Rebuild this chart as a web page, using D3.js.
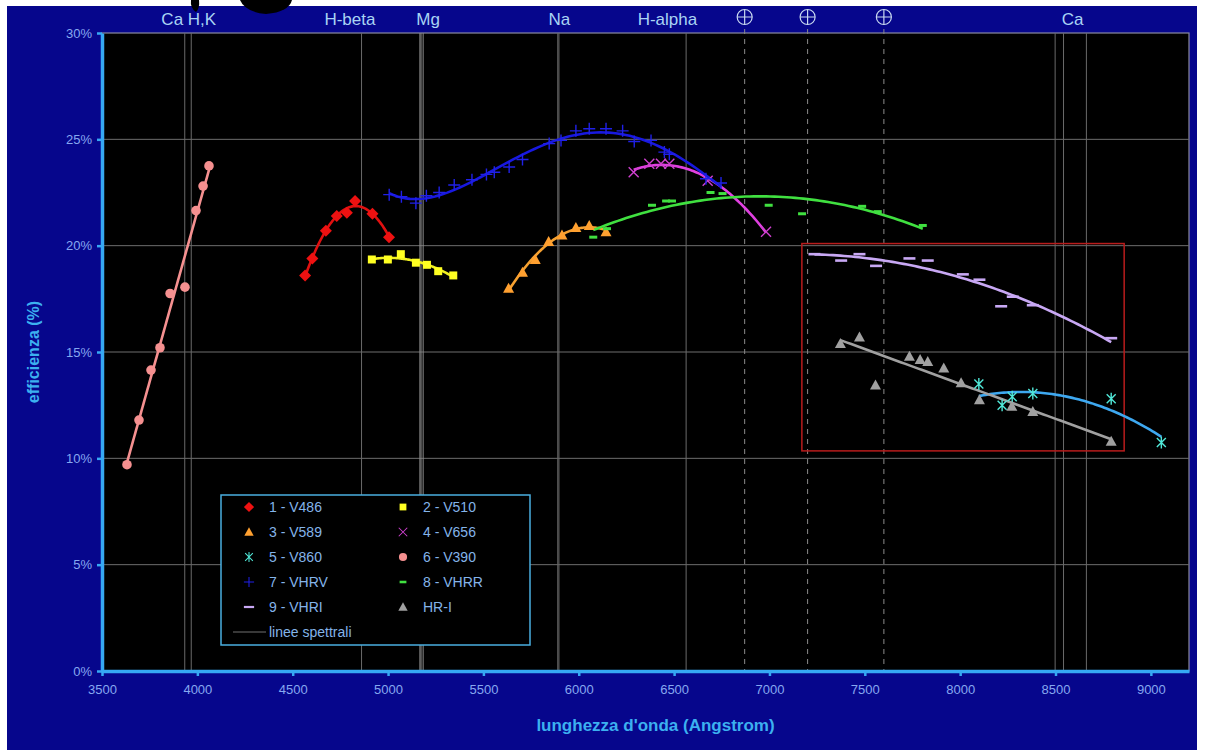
<!DOCTYPE html>
<html>
<head>
<meta charset="utf-8">
<script src="https://cdn.jsdelivr.net/npm/d3@7"></script>
<style>
body{margin:0;background:#fff}
text{font-family:"Liberation Sans",Arial,sans-serif}
</style>
</head>
<body>
<svg id="chart" width="1205" height="754"></svg>
<script>
// data: [wavelength (Angstrom), efficiency (%)]
const V486 = [[4565,18.6],[4603,19.4],[4674,20.7],[4731,21.4],[4784,21.55],[4827,22.1],[4918,21.5],[5005,20.4]]
const V510 = [[4915,19.35],[4999,19.35],[5067,19.6],[5146,19.2],[5204,19.1],[5263,18.8],[5342,18.6]]
const V589 = [[5632,18.0],[5705,18.75],[5772,19.35],[5842,20.2],[5912,20.5],[5985,20.85],[6055,20.95],[6143,20.65]]
const V656 = [[6288,23.45],[6370,23.85],[6431,23.85],[6475,23.85],[6676,23.05],[6982,20.65]]
const V860 = [[8098,13.5],[8220,12.5],[8273,12.9],[8381,13.05],[8792,12.8],[9055,10.75]]
const V390 = [[3631,9.7],[3694,11.8],[3757,14.15],[3804,15.2],[3857,17.75],[3935,18.05],[3993,21.65],[4030,22.8],[4061,23.75]]
const VHRV = [[5006,22.4],[5070,22.3],[5146,22.0],[5201,22.35],[5268,22.5],[5347,22.85],[5440,23.1],[5516,23.35],[5557,23.45],[5635,23.7],[5705,24.05],[5845,24.8],[5907,24.95],[5985,25.4],[6055,25.5],[6143,25.5],[6230,25.4],[6291,24.9],[6379,24.95],[6449,24.4],[6475,24.3],[6667,23.15],[6746,22.95]]
const VHRR = [[6076,20.4],[6148,20.8],[6384,21.9],[6458,22.1],[6489,22.1],[6691,22.5],[6754,22.45],[6996,21.9],[7171,21.5],[7486,21.85],[7568,21.6],[7804,20.95]]
const VHRI = [[7236,19.6],[7376,19.3],[7472,19.6],[7559,19.05],[7734,19.4],[7830,19.3],[8014,18.65],[8101,18.4],[8215,17.15],[8276,17.6],[8381,17.2],[8792,15.65]]
const HRI = [[7372,15.4],[7472,15.7],[7556,13.45],[7734,14.8],[7790,14.65],[7830,14.55],[7914,14.25],[8005,13.55],[8101,12.75],[8271,12.45],[8381,12.2],[8792,10.8]]

const spectralLines = [3934,3968,4861,5167,5173,5184,5890,5896,6563,8498,8542,8662]
const telluricLines = [6870,7200,7600]
const topLabels = ["Ca H,K","H-beta","Mg","Na","H-alpha","Ca"]
const topLabelPos = [3955,4800,5210,5898,6465,8590]
const xTicks = [3500,4000,4500,5000,5500,6000,6500,7000,7500,8000,8500,9000]
const yTicks = [0,5,10,15,20,25,30]
const zoomBox = {x:[7170,8860], y:[10.35,20.1]}

// series: data, legend name, trend degree, marker, colours
const series = [
    {name:"1 - V486", data:V486, deg:2, mark:"diamond", fill:"#ee1111", line:"#e01010"},
    {name:"2 - V510", data:V510, deg:2, mark:"square", fill:"#ffff22", line:"#f0f020"},
    {name:"3 - V589", data:V589, deg:2, mark:"triangle", fill:"#ffa030", line:"#f5a030"},
    {name:"4 - V656", data:V656, deg:2, mark:"x", fill:"#d040d0", line:"#e040e0"},
    {name:"5 - V860", data:V860, deg:2, mark:"star", fill:"#50e8d8", line:"#3ea8f0"},
    {name:"6 - V390", data:V390, deg:1, mark:"circle", fill:"#f59090", line:"#f59090"},
    {name:"7 - VHRV", data:VHRV, deg:4, mark:"plus", fill:"#2020e8", line:"#1818e0"},
    {name:"8 - VHRR", data:VHRR, deg:2, mark:"dash", fill:"#40e040", line:"#40e040"},
    {name:"9 - VHRI", data:VHRI, deg:2, mark:"longdash", fill:"#c8a8f4", line:"#c8a8f4"},
    {name:"HR-I", data:HRI, deg:1, mark:"triangle", fill:"#a0a0a0", line:"#a0a0a0"}
]

// least squares polynomial trendline
function polyfit(pts,deg){
    const m = d3.mean(pts,p=>p[0])
    const n = deg+1
    const A = d3.range(n).map(()=>new Array(n).fill(0))
    const b = new Array(n).fill(0)
    pts.forEach(([lx,v])=>{
        const t = (lx-m)/1000
        for(let i=0;i<n;i++){
            b[i] += v*t**i
            for(let j=0;j<n;j++) A[i][j] += t**(i+j)
        }
    })
    for(let i=0;i<n;i++){
        let p=i
        for(let r=i+1;r<n;r++) if(Math.abs(A[r][i])>Math.abs(A[p][i])) p=r
        ;[A[i],A[p]]=[A[p],A[i]];[b[i],b[p]]=[b[p],b[i]]
        for(let r=i+1;r<n;r++){
            const f=A[r][i]/A[i][i]
            for(let c=i;c<n;c++) A[r][c]-=f*A[i][c]
            b[r]-=f*b[i]
        }
    }
    const c = new Array(n).fill(0)
    for(let i=n-1;i>=0;i--){
        let s=b[i]
        for(let j=i+1;j<n;j++) s-=A[i][j]*c[j]
        c[i]=s/A[i][i]
    }
    return lx=>{const t=(lx-m)/1000; return c.reduce((s,ci,i)=>s+ci*t**i,0)}
}

function markPath(type){
    switch(type){
        case "diamond": return "M0,-6L6,0L0,6L-6,0Z"
        case "square": return "M-4,-4H4V4H-4Z"
        case "triangle": return "M0,-5.5L5.5,4.5H-5.5Z"
        case "circle": return "M4.8,0A4.8,4.8 0 1 1 -4.8,0A4.8,4.8 0 1 1 4.8,0Z"
        case "x": return "M-5,-5L5,5M5,-5L-5,5"
        case "plus": return "M-6,0H6M0,-6V6"
        case "star": return "M-4.5,-4.5L4.5,4.5M4.5,-4.5L-4.5,4.5M0,-6V6"
        case "dash": return "M-4,-1.5H4V1.5H-4Z"
        case "longdash": return "M-6,-1.3H6V1.3H-6Z"
    }
}
const stroked = t=>["x","plus","star"].includes(t)

const svg = d3.select("#chart")
const W = 1205, H = 754
const pLeft = 102, pRight = 1189, pTop = 33, pBottom = 671

const x = d3.scaleLinear().domain([3500,9200]).range([pLeft,pRight])
const y = d3.scaleLinear().domain([0,30]).range([pBottom,pTop])

// background panel
svg.append("rect").attr("width",W).attr("height",H).attr("fill","#fff")
svg.append("rect").attr("x",7).attr("y",6).attr("width",1190).attr("height",744).attr("fill","#06068c")
// cropped logo remains at the top
svg.append("path").attr("d","M191,0H199Q200,8 196,12Q190,8 191,0Z").attr("fill","#000")
svg.append("path").attr("d","M240,0H292Q289,12 266,14Q245,12 240,0Z").attr("fill","#000")

// plot area
svg.append("rect").attr("x",pLeft).attr("y",pTop).attr("width",pRight-pLeft).attr("height",pBottom-pTop)
    .attr("fill","#000").attr("stroke","#8a8aa0").attr("stroke-width",1.2)

// horizontal gridlines
svg.append("g").selectAll("line").data(yTicks.filter(d=>d>0&&d<30)).join("line")
    .attr("x1",pLeft).attr("x2",pRight).attr("y1",d=>y(d)).attr("y2",d=>y(d))
    .attr("stroke","#6e6e6e").attr("stroke-width",1)

// spectral lines
svg.append("g").selectAll("line").data(spectralLines).join("line")
    .attr("x1",d=>x(d)).attr("x2",d=>x(d)).attr("y1",pTop).attr("y2",pBottom)
    .attr("stroke",d=>d>5100&&d<5200?"#8c8c8c":"#6a6a6a").attr("stroke-width",1)
svg.append("g").selectAll("line").data(telluricLines).join("line")
    .attr("x1",d=>x(d)).attr("x2",d=>x(d)).attr("y1",pTop-4).attr("y2",pBottom)
    .attr("stroke","#8a8a8a").attr("stroke-width",1).attr("stroke-dasharray","5,5")

// top labels
svg.append("g").selectAll("text").data(topLabels).join("text")
    .attr("x",(d,i)=>x(topLabelPos[i])).attr("y",25)
    .attr("text-anchor","middle").attr("fill","#a9d4f4").attr("font-size",17)
    .text(d=>d)
const earth = svg.append("g").selectAll("g").data(telluricLines).join("g")
    .attr("transform",d=>`translate(${x(d)},17)`)
earth.append("circle").attr("r",7.5).attr("fill","none").attr("stroke","#c8d8f0").attr("stroke-width",1.2)
earth.append("path").attr("d","M-7.5,0H7.5M0,-7.5V7.5").attr("stroke","#c8d8f0").attr("stroke-width",1.2)

// zoom box
svg.append("rect")
    .attr("x",x(zoomBox.x[0])).attr("y",y(zoomBox.y[1]))
    .attr("width",x(zoomBox.x[1])-x(zoomBox.x[0])).attr("height",y(zoomBox.y[0])-y(zoomBox.y[1]))
    .attr("fill","none").attr("stroke","#b81c1c").attr("stroke-width",1.5)

// trendlines
const line = d3.line().x(d=>x(d[0])).y(d=>y(d[1]))
series.forEach(s=>{
    const f = polyfit(s.data,s.deg)
    const [a,b] = d3.extent(s.data,d=>d[0])
    const pts = d3.range(81).map(i=>{const l=a+(b-a)*i/80; return [l,f(l)]})
    svg.append("path").attr("d",line(pts)).attr("fill","none")
        .attr("stroke",s.line).attr("stroke-width",2.6)
})

// markers
series.forEach(s=>{
    svg.append("g").selectAll("path").data(s.data).join("path")
        .attr("transform",d=>`translate(${x(d[0])},${y(d[1])})`)
        .attr("d",markPath(s.mark))
        .attr("fill",stroked(s.mark)?"none":s.fill)
        .attr("stroke",stroked(s.mark)?s.fill:"none")
        .attr("stroke-width",1.4)
})

// axes
const yAxis = svg.append("g").attr("transform",`translate(${pLeft},0)`)
    .call(d3.axisLeft(y).tickValues(yTicks).tickSize(5).tickSizeOuter(0).tickFormat(d=>d+"%"))
const xAxis = svg.append("g").attr("transform",`translate(0,${pBottom})`)
    .call(d3.axisBottom(x).tickValues(xTicks).tickSize(5).tickSizeOuter(0).tickFormat(d3.format("d")))
;[yAxis,xAxis].forEach(g=>{
    g.select(".domain").attr("stroke","#36a8f4").attr("stroke-width",3.5)
    g.selectAll(".tick line").attr("stroke","#36a8f4").attr("stroke-width",2.5)
    g.selectAll(".tick text").attr("fill","#86a8f0").attr("font-size",13)
        .attr("font-family","'Liberation Sans Narrow','DejaVu Sans Condensed','Liberation Sans',sans-serif")
})
yAxis.selectAll(".tick text").attr("x",-10)
xAxis.selectAll(".tick text").attr("y",14)

svg.append("text").attr("x",(pLeft+pRight)/2+10).attr("y",731).attr("text-anchor","middle")
    .attr("fill","#3cb0f0").attr("font-weight","bold").attr("font-size",17)
    .text("lunghezza d'onda (Angstrom)")
svg.append("text").attr("transform",`translate(39,${(pTop+pBottom)/2})rotate(-90)`)
    .attr("text-anchor","middle").attr("fill","#3cb0f0").attr("font-weight","bold").attr("font-size",16)
    .text("efficienza (%)")

// legend
const legend = svg.append("g")
legend.append("rect").attr("x",221).attr("y",495).attr("width",309).attr("height",150)
    .attr("fill","#000").attr("stroke","#4aaee0").attr("stroke-width",1.5)
series.forEach((s,i)=>{
    const col = i%2, row = Math.floor(i/2)
    const g = legend.append("g").attr("transform",`translate(${249+col*154},${507+row*25})`)
    g.append("path").attr("d",markPath(s.mark))
        .attr("fill",stroked(s.mark)?"none":s.fill)
        .attr("stroke",stroked(s.mark)?s.fill:"none").attr("stroke-width",1.2)
        .attr("transform","scale(0.85)")
    g.append("text").attr("x",20).attr("y",5).attr("fill","#84b4ea").attr("font-size",14).text(s.name)
})
const lg = legend.append("g").attr("transform",`translate(249,632)`)
lg.append("line").attr("x1",-16).attr("x2",17).attr("stroke","#707070").attr("stroke-width",1)
lg.append("text").attr("x",20).attr("y",5).attr("fill","#84b4ea").attr("font-size",14).text("linee spettrali")
</script>
</body>
</html>
